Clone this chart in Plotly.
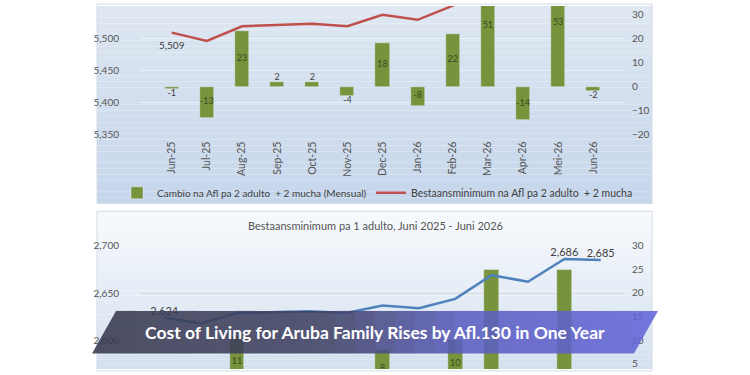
import plotly.graph_objects as go

# ---------------- data ----------------
months = ["Jun-25", "Jul-25", "Aug-25", "Sep-25", "Oct-25", "Nov-25", "Dec-25",
          "Jan-26", "Feb-26", "Mar-26", "Apr-26", "Mei-26", "Jun-26"]
family_total = [5509, 5496, 5519, 5521, 5523, 5519, 5537, 5529, 5551, 5602, 5588, 5641, 5639]
family_change = [-1, -13, 23, 2, 2, -4, 18, -8, 22, 51, -14, 53, -2]
adult_total = [2624, 2618, 2629, 2630, 2631, 2629, 2637, 2634, 2644, 2669, 2662, 2686, 2685]
adult_change = [-1, -6, 11, 1, 1, -2, 8, -3, 10, 25, -7, 25, -1]
family_labels = ["5,509"] + [""] * 12
adult_labels = ["2,624"] + [""] * 10 + ["2,686", "2,685"]

bar_name = "Cambio na Afl pa 2 adulto  + 2 mucha (Mensual)"
line_name = "Bestaansminimum na Afl pa 2 adulto  + 2 mucha"
chart2_title = "Bestaansminimum pa 1 adulto, Juni 2025 - Juni 2026"
banner_text = "Cost of Living for Aruba Family Rises by Afl.130 in One Year"

W, H = 750, 375
FONT = "Lato"
GREEN = "#77933c"
RED = "#c0504d"
BLUE = "#4f81bd"
TICK = "#555555"
IN_LBL = "#3a4a22"
OUT_LBL = "#404040"


def px(x):
    return x / W


def py(y):
    return 1 - y / H


fig = go.Figure()

# ---------------- top chart ----------------
fig.add_trace(go.Bar(
    x=months, y=family_change, name=bar_name, marker_color=GREEN, width=0.4,
    xaxis="x", yaxis="y", hoverinfo="skip", legend="legend",
))
# data labels of the bars (centre of bar when large, outside end when small)
fig.add_trace(go.Scatter(
    x=months,
    y=[v / 2 if abs(v) >= 5 else v for v in family_change],
    text=[str(v) for v in family_change], mode="text",
    textposition=["middle center" if abs(v) >= 5 else ("top center" if v > 0 else "bottom center")
                  for v in family_change],
    textfont=dict(size=9, family=FONT,
                  color=[IN_LBL if abs(v) >= 5 else OUT_LBL for v in family_change]),
    xaxis="x", yaxis="y", showlegend=False, hoverinfo="skip", cliponaxis=False,
))
fig.add_trace(go.Scatter(
    x=months, y=family_total, name=line_name, mode="lines+markers+text",
    line=dict(color=RED, width=2.5), marker=dict(size=12, color="rgba(0,0,0,0)"),
    text=family_labels, textposition="bottom center",
    textfont=dict(color=OUT_LBL, size=10, family=FONT),
    xaxis="x", yaxis="y2", hoverinfo="skip", legend="legend2",
))

# ---------------- bottom chart ----------------
fig.add_trace(go.Bar(
    x=months, y=adult_change, name="Cambio pa 1 adulto", marker_color=GREEN, width=0.4,
    xaxis="x2", yaxis="y3", showlegend=False, hoverinfo="skip",
))
fig.add_trace(go.Scatter(
    x=months, y=[v / 2 for v in adult_change],
    text=[str(v) if 8 <= v <= 12 else "" for v in adult_change], mode="text",
    textposition="middle center", textfont=dict(size=9, family=FONT, color=IN_LBL),
    xaxis="x2", yaxis="y3", showlegend=False, hoverinfo="skip",
))
fig.add_trace(go.Scatter(
    x=months, y=adult_total, name="Bestaansminimum pa 1 adulto", mode="lines+text",
    line=dict(color=BLUE, width=2.5), text=adult_labels,
    textposition="top center", textfont=dict(color=OUT_LBL, size=11, family=FONT),
    xaxis="x2", yaxis="y4", showlegend=False, hoverinfo="skip",
))

xdom = [px(140), px(625)]
tickfont = dict(size=10, color=TICK, family=FONT)

fig.update_layout(
    width=W, height=H, autosize=False,
    margin=dict(l=0, r=0, t=0, b=0, pad=0),
    paper_bgcolor="#ffffff", plot_bgcolor="rgba(0,0,0,0)",
    font=dict(family=FONT, color=TICK),
    bargap=0,
    xaxis=dict(domain=xdom, anchor="y", type="category", tickangle=-90,
               tickfont=dict(size=10.5, color=TICK, family=FONT),
               showgrid=False, zeroline=False, showline=False,
               ticks="", ticklabelstandoff=4),
    yaxis=dict(domain=[py(132.7), 1], anchor="x", side="right", range=[-20, 33.64],
               dtick=10, tickfont=tickfont, showgrid=False, zeroline=False,
               ticks="", ticklabelstandoff=6),
    yaxis2=dict(overlaying="y", anchor="x", side="left", range=[5350, 5550.6],
                dtick=50, tickformat=",d", tickfont=tickfont, showgrid=True,
                gridcolor="rgba(255,255,255,0.55)", gridwidth=1, zeroline=False,
                ticks="", ticklabelstandoff=20),
    xaxis2=dict(domain=xdom, anchor="y3", type="category", showticklabels=False,
                showgrid=False, zeroline=False, showline=False, ticks=""),
    yaxis3=dict(domain=[0, py(247.7)], anchor="x2", side="right", range=[3.9, 30],
                dtick=5, tickfont=tickfont, showgrid=False, zeroline=False,
                ticks="", ticklabelstandoff=6),
    yaxis4=dict(overlaying="y3", anchor="x2", side="left", range=[2570, 2700],
                dtick=50, tickformat=",d", tickfont=tickfont, showgrid=True,
                gridcolor="#d9d9d9", gridwidth=1, zeroline=False,
                ticks="", ticklabelstandoff=20),
    legend=dict(orientation="h", x=px(117), y=py(178), xanchor="left", yanchor="top",
                font=dict(size=10, color="#404040", family=FONT),
                bgcolor="rgba(0,0,0,0)", itemwidth=30),
    legend2=dict(orientation="h", x=px(371), y=py(178), xanchor="left", yanchor="top",
                 font=dict(size=10.5, color="#404040", family=FONT),
                 bgcolor="rgba(0,0,0,0)", itemwidth=30),
)

# ---------------- decorations: panel backgrounds ----------------
shapes = []


def lerp(c0, c1, t):
    return tuple(round(a + (b - a) * t) for a, b in zip(c0, c1))


def vgrad(x0, x1, y0, y1, c0, c1, n):
    edges = [round(y0 + (y1 - y0) * i / n) for i in range(n + 1)]
    for i in range(n):
        c = lerp(c0, c1, (i + 0.5) / n)
        shapes.append(dict(type="rect", xref="paper", yref="paper", layer="below",
                           x0=px(x0), x1=px(x1), y0=py(edges[i]), y1=py(edges[i + 1]),
                           fillcolor="rgb(%d,%d,%d)" % c, line=dict(width=0)))


vgrad(97, 652, 0, 204, (222, 231, 242), (198, 214, 235), 34)
vgrad(97, 652, 212, 375, (248, 250, 253), (212, 224, 239), 32)
for (y0, y1) in [(-2, 204), (212, 377)]:
    shapes.append(dict(type="rect", xref="paper", yref="paper", layer="below",
                       x0=px(97), x1=px(652), y0=py(y0), y1=py(y1),
                       fillcolor="rgba(0,0,0,0)", line=dict(color="#d3dae4", width=1)))

# ---------------- banner (parallelogram, stepped gradient) ----------------
bt, bb = 315, 359
lb, rb, off = 92, 634, 24
stops = [(0.0, (56, 58, 78)), (0.42, (64, 66, 100)), (0.66, (90, 93, 192)), (1.0, (99, 101, 214))]


def grad_color(t):
    for (t0, c0), (t1, c1) in zip(stops[:-1], stops[1:]):
        if t <= t1:
            return lerp(c0, c1, (t - t0) / (t1 - t0))
    return stops[-1][1]


def bshape(path, t):
    c = grad_color(t)
    shapes.append(dict(type="path", xref="paper", yref="paper", layer="above",
                       path=path, fillcolor="rgb(%d,%d,%d)" % c, opacity=0.88,
                       line=dict(width=0)))


def P(x, y):
    return "%f,%f" % (px(x), py(y))


bshape("M%s L%s L%s Z" % (P(lb, bb), P(lb + off, bt), P(lb + off, bb)), 0.0)
n = 26
xs = [round(lb + off + (rb - lb - off) * i / n) for i in range(n + 1)]
for i in range(n):
    t = ((xs[i] + xs[i + 1]) / 2 - lb) / (rb + off - lb)
    bshape("M%s L%s L%s L%s Z" % (P(xs[i], bb), P(xs[i], bt), P(xs[i + 1], bt), P(xs[i + 1], bb)), t)
bshape("M%s L%s L%s Z" % (P(rb, bb), P(rb, bt), P(rb + off, bt)), 1.0)

fig.update_layout(shapes=shapes)

fig.add_annotation(xref="paper", yref="paper", x=px(375), y=py(227), text=chart2_title,
                   showarrow=False, font=dict(size=11, color=TICK, family=FONT),
                   xanchor="center", yanchor="middle")
fig.add_annotation(xref="paper", yref="paper", x=px(375), y=py(337), text="<b>" + banner_text + "</b>",
                   showarrow=False, font=dict(size=17.5, color="#ffffff", family=FONT),
                   xanchor="center", yanchor="middle")

fig.write_html("out.html")
